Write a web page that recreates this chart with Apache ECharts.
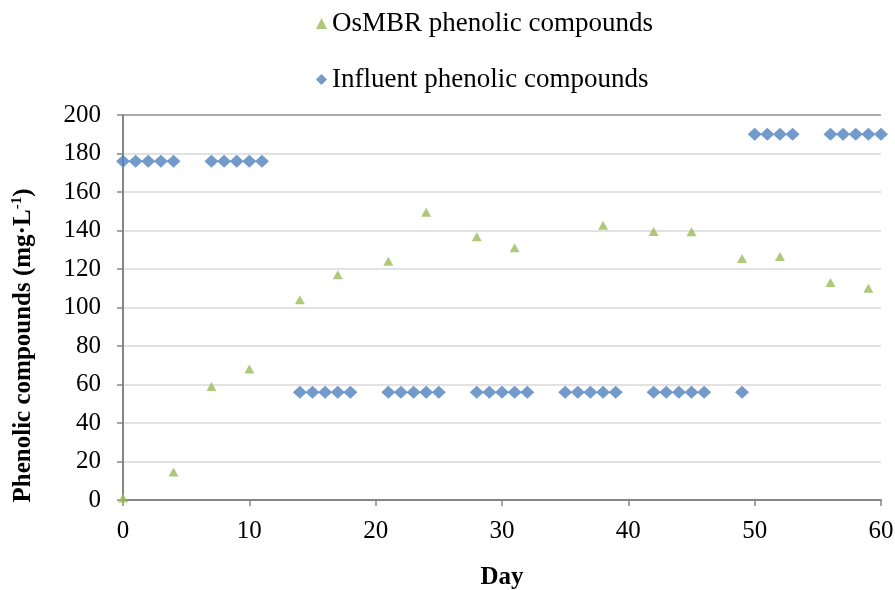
<!DOCTYPE html>
<html>
<head>
<meta charset="utf-8">
<script src="https://cdn.jsdelivr.net/npm/echarts@6/dist/echarts.min.js"></script>
<style>
  html, body { margin: 0; padding: 0; background: #fff; }
  #chart { width: 895px; height: 590px; }
</style>
</head>
<body>
<div id="chart"></div>
<script>
// Days and measured phenolic compounds (mg/L)
const influentDays = [0, 1, 2, 3, 4, 7, 8, 9, 10, 11, 14, 15, 16, 17, 18, 21, 22, 23, 24, 25,
  28, 29, 30, 31, 32, 35, 36, 37, 38, 39, 42, 43, 44, 45, 46, 49, 50, 51, 52, 53, 56, 57, 58, 59, 60];
const influentValues = [176, 176, 176, 176, 176, 176, 176, 176, 176, 176, 56, 56, 56, 56, 56, 56, 56, 56, 56, 56,
  56, 56, 56, 56, 56, 56, 56, 56, 56, 56, 56, 56, 56, 56, 56, 56, 190, 190, 190, 190, 190, 190, 190, 190, 190];

const osmbrDays = [0, 4, 7, 10, 14, 17, 21, 24, 28, 31, 38, 42, 45, 49, 52, 56, 59];
const osmbrValues = [1, 14.5, 59, 68, 104, 117, 124, 149.5, 136.7, 131, 142.7, 139.5, 139.3, 125.5, 126.5, 113, 110];

const seriesNames = ["OsMBR phenolic compounds", "Influent phenolic compounds"];

const font = "'Liberation Serif', 'Times New Roman', serif";

function pairs(xs, ys) {
  return xs.map((x, i) => [x, ys[i]]);
}

// light gridlines, the top one (200) darker like a plot border
const gridColors = [];
for (let i = 0; i < 10; i++) gridColors.push("#d9d9d9");
gridColors.push("#8c8c8c");

const chart = echarts.init(document.getElementById("chart"));

chart.setOption({
  animation: false,
  grid: { left: 123, right: 14, top: 115, bottom: 90, containLabel: false, outerBoundsMode: "none" },
  legend: {
    orient: "vertical",
    left: 311,
    top: 5,
    itemGap: 29,
    itemWidth: 11,
    itemHeight: 11,
    textStyle: { fontFamily: font, fontSize: 27, color: "#000" },
    data: [
      { name: seriesNames[0], icon: "triangle" },
      { name: seriesNames[1], icon: "diamond" }
    ]
  },
  xAxis: {
    type: "value",
    min: 0,
    max: 60,
    interval: 10,
    name: "Day",
    nameLocation: "middle",
    nameGap: 65,
    nameTextStyle: { fontFamily: font, fontSize: 25, fontWeight: "bold", color: "#000" },
    axisLine: { show: true, onZero: false, lineStyle: { color: "#868686", width: 2 } },
    axisTick: { show: true, length: 6, lineStyle: { color: "#868686", width: 1.5 } },
    axisLabel: { fontFamily: font, fontSize: 25, color: "#000", margin: 19 },
    splitLine: { show: false }
  },
  yAxis: {
    type: "value",
    min: 0,
    max: 200,
    interval: 20,
    name: "{a|Phenolic compounds (mg·L}{s|-1}{a|)}",
    nameLocation: "middle",
    nameGap: 86,
    nameTextStyle: {
      padding: [0, 76, 0, 0],
      rich: {
        a: { fontFamily: font, fontSize: 25, fontWeight: "bold", color: "#000" },
        s: { fontFamily: font, fontSize: 15, fontWeight: "bold", color: "#000", padding: [0, 0, 12, 0] }
      }
    },
    axisLine: { show: true, lineStyle: { color: "#868686", width: 2 } },
    axisTick: { show: true, length: 6, lineStyle: { color: "#868686", width: 1.5 } },
    axisLabel: { fontFamily: font, fontSize: 25, color: "#000", margin: 22 },
    splitLine: { show: true, lineStyle: { color: gridColors, width: 1.5 } }
  },
  series: [
    {
      name: seriesNames[0],
      type: "scatter",
      symbol: "triangle",
      symbolSize: [10, 9],
      itemStyle: { color: "#9bbb59" },
      data: pairs(osmbrDays, osmbrValues),
      z: 3
    },
    {
      name: seriesNames[1],
      type: "scatter",
      symbol: "diamond",
      symbolSize: [14, 13],
      itemStyle: { color: "#4f81bd" },
      data: pairs(influentDays, influentValues),
      z: 2
    }
  ]
});
</script>
</body>
</html>
